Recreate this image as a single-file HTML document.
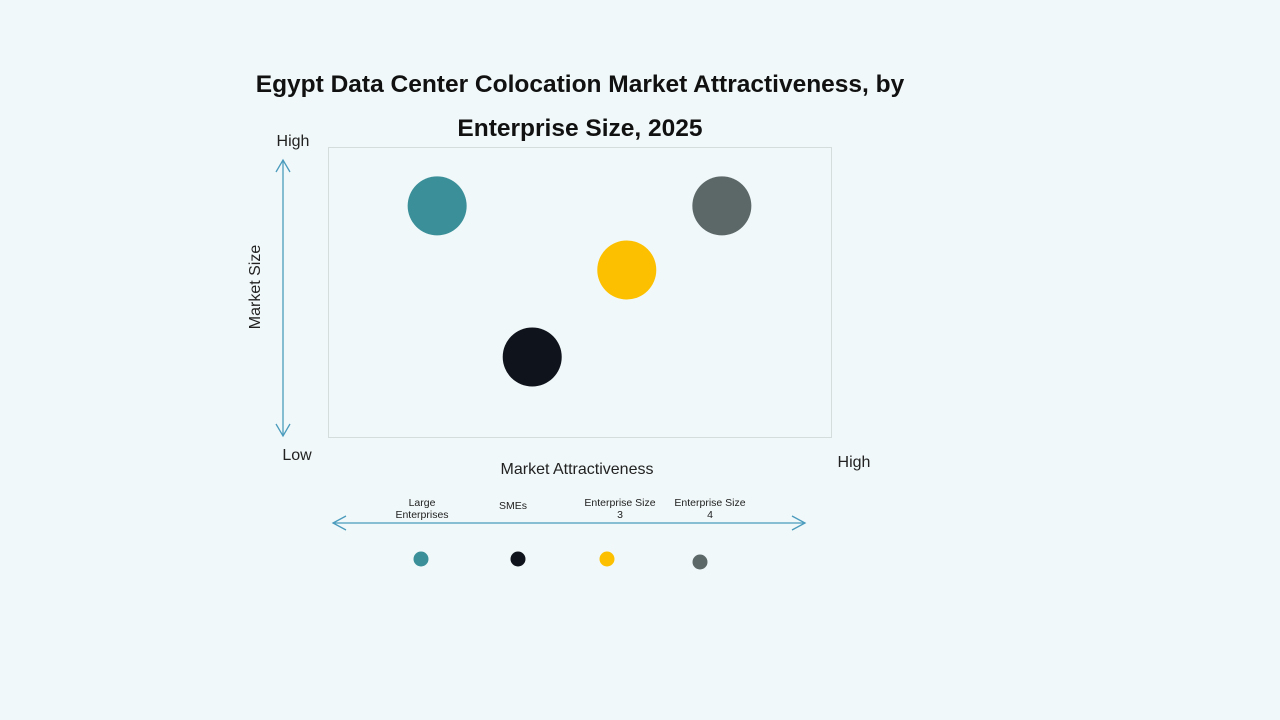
<!DOCTYPE html>
<html><head><meta charset="utf-8"><style>
html,body{margin:0;padding:0;background:#f1f8f9;}
svg{display:block;font-family:"Liberation Sans",sans-serif;}
</style></head><body>
<svg id="chart" width="1280" height="720" viewBox="0 0 1280 720">
<rect width="1280" height="720" fill="#f1f8f9"/>
<text x="580" y="92" text-anchor="middle" font-size="24.5" font-weight="bold" fill="#111">Egypt Data Center Colocation Market Attractiveness, by</text>
<text x="580" y="136" text-anchor="middle" font-size="24.5" font-weight="bold" fill="#111">Enterprise Size, 2025</text>
<rect x="328.5" y="147.5" width="503" height="290" fill="none" stroke="#d4dcdc"/>
<text x="293" y="146" text-anchor="middle" font-size="16" fill="#222">High</text>
<text x="297" y="460" text-anchor="middle" font-size="16" fill="#222">Low</text>
<text x="854" y="467" text-anchor="middle" font-size="16" fill="#222">High</text>
<text x="577" y="474" text-anchor="middle" font-size="16" fill="#222">Market Attractiveness</text>
<text transform="translate(260,287) rotate(-90)" text-anchor="middle" font-size="16" fill="#222">Market Size</text>
<g stroke="#4a9bbd" stroke-width="1.3" fill="none">
<line x1="283" y1="160" x2="283" y2="436"/>
<polyline points="276,172 283,160 290,172"/>
<polyline points="276,424 283,436 290,424"/>
</g>
<g stroke="#4a9bbd" stroke-width="1.3" fill="none">
<line x1="333" y1="523" x2="805" y2="523"/>
<polyline points="346,516 333,523 346,530"/>
<polyline points="792,516 805,523 792,530"/>
</g>
<g id="bubbles"></g>
<g id="legend"></g>
<script>
const categories=["Large Enterprises","SMEs","Enterprise Size 3","Enterprise Size 4"];
const attractiveness=[2.17,4.06,5.94,7.83];
const marketSize=[7.97,2.76,5.76,7.97];
const colors=["#3a8f99","#0f141c","#fcc000","#5c6867"];
const legendLines=[["Large","Enterprises"],["SMEs"],["Enterprise Size","3"],["Enterprise Size","4"]];
const legendX=[422,513,620,710];
const legendDotX=[421,518,607,700];
const legendDotY=[559,559,559,562];
const ns="http://www.w3.org/2000/svg";
const xs=v=>328+v/10*503;
const ys=v=>437-v/10*290;
const bg=document.getElementById('bubbles');
categories.forEach((c,i)=>{
 const el=document.createElementNS(ns,'circle');
 el.setAttribute('cx',xs(attractiveness[i]));el.setAttribute('cy',ys(marketSize[i]));
 el.setAttribute('r',29.5);el.setAttribute('fill',colors[i]);
 
 
 bg.appendChild(el);
});
const lg=document.getElementById('legend');
categories.forEach((c,i)=>{
 const g=document.createElementNS(ns,'g');
 
 
 const lines=legendLines[i];
 const y0=lines.length===1?509:506;
 lines.forEach((l,j)=>{
  const t=document.createElementNS(ns,'text');
  t.setAttribute('x',legendX[i]);t.setAttribute('y',y0+j*12);
  t.setAttribute('text-anchor','middle');t.setAttribute('font-size','10.5');t.setAttribute('fill','#222');
  t.textContent=l;g.appendChild(t);
 });
 const d=document.createElementNS(ns,'circle');
 d.setAttribute('cx',legendDotX[i]);d.setAttribute('cy',legendDotY[i]);d.setAttribute('r',7.5);d.setAttribute('fill',colors[i]);
 g.appendChild(d);
 lg.appendChild(g);
});
</script>
</svg>
</body></html>
